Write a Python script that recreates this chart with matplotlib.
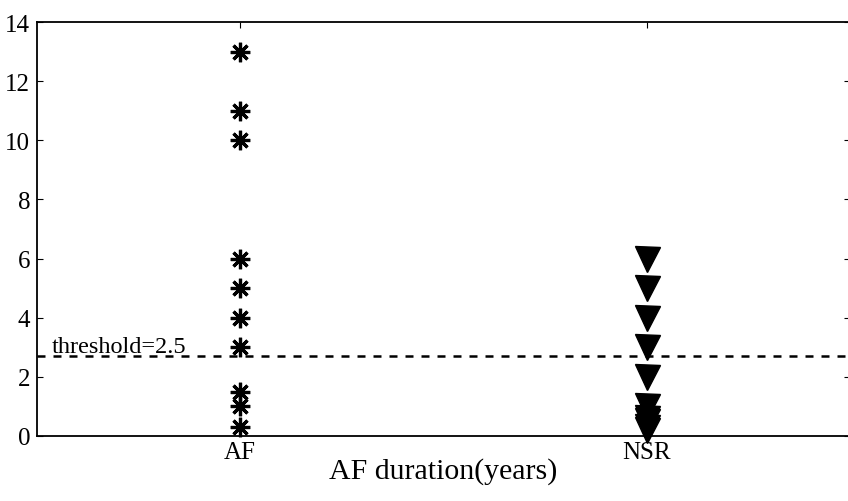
import numpy as np
import matplotlib.pyplot as plt

plt.rcParams['font.family'] = ['Liberation Serif', 'DejaVu Serif']

# donnees
groupes = ['AF', 'NSR']
af_duree = [13, 11, 10, 6, 5, 4, 3, 1.5, 1, 0.3]
nsr_duree = [6, 5, 4, 3, 2, 1, 0.6, 0.5, 0.3, 0.2]
seuil = 2.7
texte_seuil = 'threshold=2.5'

fig = plt.figure(figsize=(8.48, 5.02), dpi=100)
ax = fig.add_axes([37/848, 65/502, 813/848, 414/502])

ax.plot(np.full(len(af_duree), 1), af_duree, linestyle='none',
        marker=(8, 2, 0), markersize=14, markeredgewidth=2.3, color='black',
        clip_on=False)
ax.plot(np.full(len(nsr_duree), 2), nsr_duree, linestyle='none',
        marker='v', markersize=18, color='black', clip_on=False)

ax.axhline(seuil, color='black', linewidth=1.8, linestyle=(0, (3.2, 3.2)))
ax.text(0.535, 2.85, texte_seuil, fontsize=17.5, va='baseline', ha='left')

ax.set_xlim(0.5, 2.5)
ax.set_ylim(0, 14)
ax.set_xticks([1, 2])
ax.set_xticklabels(groupes)
ax.set_yticks(np.arange(0, 15, 2))
ax.tick_params(direction='in', length=4, width=0.8, labelsize=18,
               top=True, right=True, pad=5)
ax.tick_params(axis='x', pad=3.5)
for s in ax.spines.values():
    s.set_linewidth(1.3)
ax.set_xlabel('AF duration(years)', fontsize=21.5, labelpad=-4)

fig.savefig('out.png', dpi=100)
